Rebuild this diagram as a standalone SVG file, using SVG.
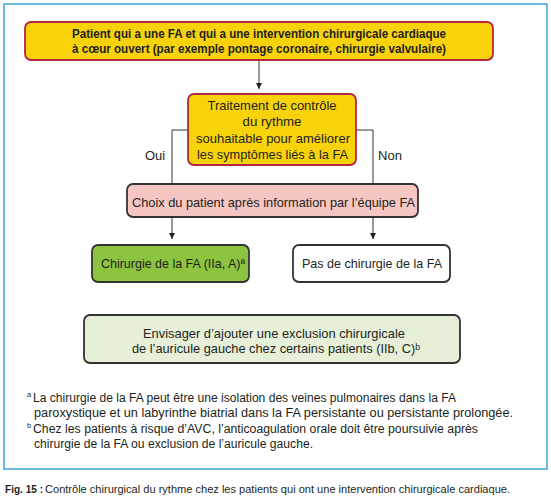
<svg xmlns="http://www.w3.org/2000/svg" width="551" height="500" viewBox="0 0 551 500">
<style>
text{font-family:"Liberation Sans","DejaVu Sans",Arial,sans-serif;fill:#231f20;}
.b{font-size:13px;text-anchor:middle;}
.bb{font-size:13px;font-weight:bold;text-anchor:middle;}
.fn{font-size:12px;}
.cap{font-size:11.5px;}
.sup{font-size:7.5px;}
.box{stroke-width:1.8;}
.red{stroke:#b5263f;}
.dk{stroke:#333;}
.ln{fill:none;stroke:#333;stroke-width:1;}
</style>
<defs>
<marker id="ah" viewBox="0 0 10 10" refX="10" refY="5" markerWidth="6" markerHeight="6" orient="auto" markerUnits="userSpaceOnUse">
<path d="M0,0 L10,5 L0,10 z" fill="#231f20"/>
</marker>
</defs>
<rect x="4" y="4" width="543" height="465" fill="#fff" stroke="#3aa7dc" stroke-width="1.5"/>
<g id="connectors">
<line class="ln" x1="259" y1="60" x2="259" y2="89" marker-end="url(#ah)"/>
<polyline class="ln" points="188,130 172,130 172,184"/>
<polyline class="ln" points="356,130 373,130 373,184"/>
<line class="ln" x1="172" y1="217" x2="172" y2="239" marker-end="url(#ah)"/>
<line class="ln" x1="373" y1="217" x2="373" y2="239" marker-end="url(#ah)"/>
<text x="155" y="159.5" class="b">Oui</text>
<text x="390" y="159.5" class="b">Non</text>
</g>
<g id="n1">
<rect class="box red" x="25" y="22" width="468" height="38" rx="6" fill="#f8d20b"/>
<text x="259" y="37.5" class="bb" textLength="374" lengthAdjust="spacingAndGlyphs">Patient qui a une FA et qui a une intervention chirurgicale cardiaque</text>
<text x="259" y="52.5" class="bb" textLength="374" lengthAdjust="spacingAndGlyphs">à cœur ouvert (par exemple pontage coronaire, chirurgie valvulaire)</text>
</g>
<g id="n2">
<rect class="box red" x="188" y="94" width="168" height="71" rx="6" fill="#f8d20b"/>
<text x="272" y="110" class="b" textLength="129" lengthAdjust="spacingAndGlyphs">Traitement de contrôle</text>
<text x="272" y="126" class="b" textLength="59" lengthAdjust="spacingAndGlyphs">du rythme</text>
<text x="273" y="142.5" class="b" textLength="154" lengthAdjust="spacingAndGlyphs">souhaitable pour améliorer</text>
<text x="272.5" y="158.5" class="b" textLength="151" lengthAdjust="spacingAndGlyphs">les symptômes liés à la FA</text>
</g>
<g id="n3">
<rect class="box dk" x="127" y="184" width="291" height="33" rx="6" fill="#f6c6c2"/>
<text x="273.5" y="206.5" class="b" textLength="283" lengthAdjust="spacingAndGlyphs">Choix du patient après information par l’équipe FA</text>
</g>
<g id="n4">
<rect class="box dk" x="92" y="245" width="157" height="37" rx="6" fill="#8cc43f"/>
<text x="101" y="268" class="b" style="text-anchor:start" textLength="144" lengthAdjust="spacingAndGlyphs">Chirurgie de la FA (IIa, A)ª</text>
</g>
<g id="n5">
<rect class="box dk" x="293" y="245" width="157" height="37" rx="6" fill="#fff"/>
<text x="372" y="268" class="b" textLength="140" lengthAdjust="spacingAndGlyphs">Pas de chirurgie de la FA</text>
</g>
<g id="n6">
<rect class="box dk" x="84" y="315" width="376" height="48" rx="6" fill="#e6f0d8"/>
<text x="274" y="337.5" class="b" textLength="262" lengthAdjust="spacingAndGlyphs">Envisager d’ajouter une exclusion chirurgicale</text>
<text x="132" y="353" class="b" style="text-anchor:start" textLength="288" lengthAdjust="spacingAndGlyphs">de l’auricule gauche chez certains patients (IIb, C)ᵇ</text>
</g>
<g id="footnotes">
<text x="27" y="401.5" class="fn"><tspan class="sup" dy="-5">a</tspan><tspan x="33" y="401.5" textLength="423" lengthAdjust="spacingAndGlyphs">La chirurgie de la FA peut être une isolation des veines pulmonaires dans la FA</tspan></text>
<text x="34" y="417" class="fn" textLength="479" lengthAdjust="spacingAndGlyphs">paroxystique et un labyrinthe biatrial dans la FA persistante ou persistante prolongée.</text>
<text x="27" y="432.5" class="fn"><tspan class="sup" dy="-5">b</tspan><tspan x="33" y="432.5" textLength="445" lengthAdjust="spacingAndGlyphs">Chez les patients à risque d’AVC, l’anticoagulation orale doit être poursuivie après</tspan></text>
<text x="34" y="448" class="fn" textLength="279" lengthAdjust="spacingAndGlyphs">chirurgie de la FA ou exclusion de l’auricule gauche.</text>
</g>
<text x="5" y="493" class="cap"><tspan style="font-weight:bold" textLength="38" lengthAdjust="spacingAndGlyphs">Fig. 15 :</tspan><tspan x="45" y="493" textLength="465" lengthAdjust="spacingAndGlyphs">Contrôle chirurgical du rythme chez les patients qui ont une intervention chirurgicale cardiaque.</tspan></text>
</svg>
